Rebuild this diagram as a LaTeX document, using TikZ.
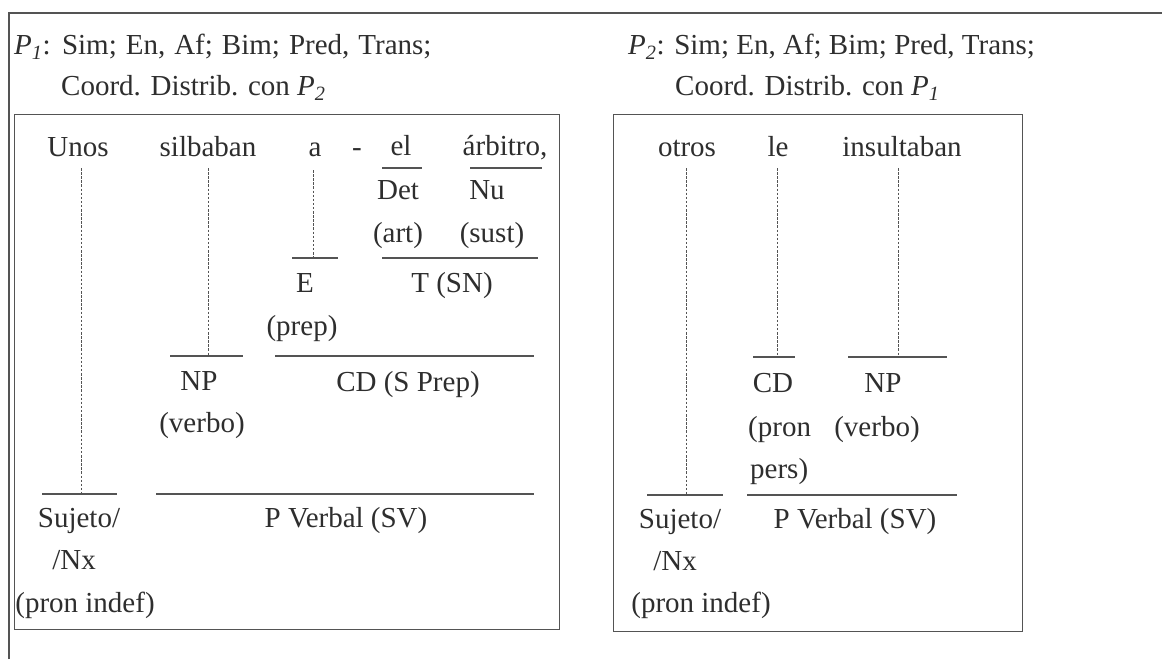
\documentclass[tikz,border=0pt]{standalone}
\usepackage{fontspec}
\setmainfont{Liberation Serif}
\definecolor{ink}{rgb}{0.18,0.18,0.18}
\definecolor{rule}{rgb}{0.33,0.33,0.33}
\newcommand{\Psub}[1]{\textit{P}\textsubscript{\textit{#1}}}
\begin{document}
\begin{tikzpicture}[x=1pt,y=-1pt,
  lbl/.style={text=ink,inner sep=0pt,anchor=mid,yshift=-7pt,font=\fontsize{29}{35}\selectfont},
  lblw/.style={lbl,anchor=mid west},
  frame/.style={draw=rule,line width=1.1pt},
  seg/.style={draw=rule,line width=1.2pt},
  dotv/.style={draw=rule,line width=0.9pt,dash pattern=on 2.5pt off 1.6pt}]
\useasboundingbox (0,0) rectangle (1162,659);
\fill[white] (0,0) rectangle (1162,659);
% outer frame
\coordinate (fbl) at (9,659);
\coordinate (ftl) at (9,13);
\coordinate (ftr) at (1162,13);
\draw[frame] (fbl) -- (ftl) -- (ftr);
% headers
\node[lblw] (h1a) at (14,45) {\spaceskip=9pt plus 1pt\Psub{1}: Sim; En, Af; Bim; Pred, Trans;};
\node[lblw] (h1b) at (61,86) {Coord. Distrib. con \Psub{2}};
\node[lblw] (h2a) at (628,45) {\Psub{2}: Sim; En, Af; Bim; Pred, Trans;};
\node[lblw] (h2b) at (675,86) {Coord. Distrib. con \Psub{1}};
% boxes
\node[frame,draw,minimum width=545pt,minimum height=515pt,anchor=north west,inner sep=0pt] (box1) at (14,114) {};
\node[frame,draw,minimum width=409pt,minimum height=517pt,anchor=north west,inner sep=0pt] (box2) at (613,114) {};
% ---- box 1 ----
\node[lbl] (unos) at (78,147) {Unos};
\node[lbl] (silb) at (208,147) {silbaban};
\node[lbl] (a) at (315,147) {a};
\node[lbl] (dash) at (357,147) {-};
\node[lbl] (el) at (401,146) {el};
\node[lbl] (arb) at (505,146) {árbitro,};
\node[lbl] (det) at (398,190) {Det};
\node[lbl] (nu) at (487,190) {Nu};
\node[lbl] (art) at (398,233) {(art)};
\node[lbl] (sust) at (492,233) {(sust)};
\node[lbl] (E) at (305,283) {E};
\node[lbl] (T) at (452,283) {T (SN)};
\node[lbl] (prep) at (302,326) {(prep)};
\node[lbl] (np1) at (199,381) {NP};
\node[lbl] (cd1) at (408,382) {CD (S Prep)};
\node[lbl] (verbo1) at (202,423) {(verbo)};
\node[lbl] (suj1) at (79,518) {Sujeto/};
\node[lbl] (pv1) at (346,518) {P Verbal (SV)};
\node[lbl] (nx1) at (74,560) {/Nx};
\node[lbl] (pi1) at (85,603) {(pron indef)};
% lines box 1
\coordinate (l_el_a) at (382,168); \coordinate (l_el_b) at (422,168);
\coordinate (l_ar_a) at (470,168); \coordinate (l_ar_b) at (542,168);
\draw[seg] (l_el_a) -- (l_el_b);
\draw[seg] (l_ar_a) -- (l_ar_b);
\coordinate (l_E_a) at (292,258); \coordinate (l_E_b) at (338,258);
\coordinate (l_T_a) at (382,258); \coordinate (l_T_b) at (538,258);
\draw[seg] (l_E_a) -- (l_E_b);
\draw[seg] (l_T_a) -- (l_T_b);
\coordinate (l_NP_a) at (170,356); \coordinate (l_NP_b) at (243,356);
\coordinate (l_CD_a) at (275,356); \coordinate (l_CD_b) at (534,356);
\draw[seg] (l_NP_a) -- (l_NP_b);
\draw[seg] (l_CD_a) -- (l_CD_b);
\coordinate (l_S_a) at (42,494); \coordinate (l_S_b) at (117,494);
\coordinate (l_PV_a) at (156,494); \coordinate (l_PV_b) at (534,494);
\draw[seg] (l_S_a) -- (l_S_b);
\draw[seg] (l_PV_a) -- (l_PV_b);
% dotted
\coordinate (d_unos_a) at (81,168); \coordinate (d_unos_b) at (81,494);
\coordinate (d_silb_a) at (208,168); \coordinate (d_silb_b) at (208,356);
\coordinate (d_a_a) at (313,170); \coordinate (d_a_b) at (313,258);
\draw[dotv] (d_unos_a) -- (d_unos_b);
\draw[dotv] (d_silb_a) -- (d_silb_b);
\draw[dotv] (d_a_a) -- (d_a_b);
% ---- box 2 ----
\node[lbl] (otros) at (687,147) {otros};
\node[lbl] (le) at (778,147) {le};
\node[lbl] (insu) at (902,147) {insultaban};
\node[lbl] (cd2) at (773,383) {CD};
\node[lbl] (np2) at (883,383) {NP};
\node[lblw] (pron2) at (748,427) {(pron};
\node[lbl] (verbo2) at (877,427) {(verbo)};
\node[lblw] (pers2) at (750,469) {pers)};
\node[lbl] (suj2) at (680,519) {Sujeto/};
\node[lbl] (pv2) at (855,519) {P Verbal (SV)};
\node[lbl] (nx2) at (675,561) {/Nx};
\node[lbl] (pi2) at (701,603) {(pron indef)};
\coordinate (m_CD_a) at (753,357); \coordinate (m_CD_b) at (795,357);
\coordinate (m_NP_a) at (848,357); \coordinate (m_NP_b) at (947,357);
\draw[seg] (m_CD_a) -- (m_CD_b);
\draw[seg] (m_NP_a) -- (m_NP_b);
\coordinate (m_S_a) at (647,495); \coordinate (m_S_b) at (723,495);
\coordinate (m_PV_a) at (747,495); \coordinate (m_PV_b) at (957,495);
\draw[seg] (m_S_a) -- (m_S_b);
\draw[seg] (m_PV_a) -- (m_PV_b);
\coordinate (d_ot_a) at (686,168); \coordinate (d_ot_b) at (686,495);
\coordinate (d_le_a) at (777,168); \coordinate (d_le_b) at (777,357);
\coordinate (d_in_a) at (898,168); \coordinate (d_in_b) at (898,357);
\draw[dotv] (d_ot_a) -- (d_ot_b);
\draw[dotv] (d_le_a) -- (d_le_b);
\draw[dotv] (d_in_a) -- (d_in_b);
\end{tikzpicture}
\end{document}
